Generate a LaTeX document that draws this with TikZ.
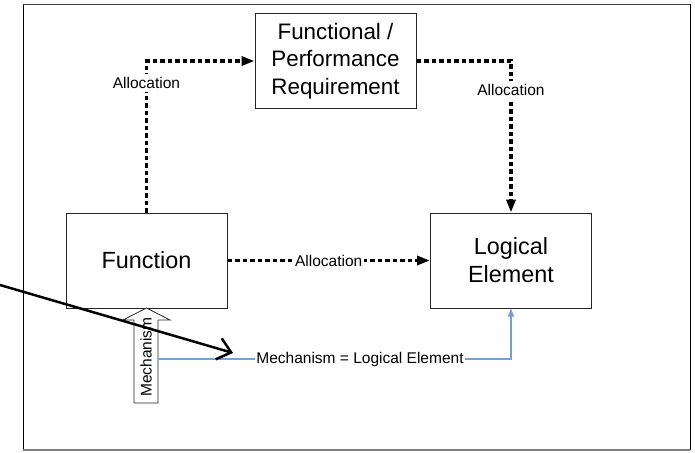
\documentclass[tikz,border=0pt]{standalone}
\usepackage{fontspec}
\setmainfont{Liberation Sans}
\usetikzlibrary{arrows.meta,calc}
\definecolor{linkblue}{RGB}{120,160,214}
\begin{document}
\begin{tikzpicture}[x=1pt,y=-1pt,
  block/.style={draw=black!85,line width=1pt,minimum width=161pt,minimum height=95pt,
    inner sep=0pt,align=center,font=\fontsize{23.4}{28}\selectfont},
  alloc/.style={line width=3.2pt,dash pattern=on 4.5pt off 3pt,
    -{Triangle[length=13pt,width=9pt]}},
  tag/.style={fill=white,text=black,inner xsep=1.5pt,inner ysep=3pt,
    font=\fontsize{15.5}{18}\selectfont},
]
\useasboundingbox (0,0) rectangle (695,452);

% outer frame
\draw[black,line width=1pt] (23,4.5) -- (23,450);
\draw[black,line width=1pt] (690,4.5) -- (690,450);
\draw[black!75,line width=1pt] (23,4.5) -- (690,4.5);
\draw[black!50,line width=2pt] (23,450) -- (690,450);

% the three blocks
\node[block,font=\fontsize{22.4}{27.5}\selectfont] (req) at (335.5,61)
  {Functional /\\Performance\\Requirement};
\node[block] (func) at (146.5,260.5) {Function};
\node[block] (logic) at (511,260.5) {Logical\\Element};

% allocation links
\draw[alloc] (func.north) |- (req.west);
\draw[alloc] (req.east) -| (logic.north);
\draw[alloc] (func.east) -- (logic.west);

% mechanism block arrow
\draw[black!85,fill=white,line width=0.8pt]
  (134,403) -- (158,403) -- (158,320) -- (170,320) -- (146.5,308)
  -- (123,320) -- (134,320) -- cycle;
\node[rotate=90,font=\fontsize{15.5}{18}\selectfont,inner sep=0pt] (mech) at (146,357) {Mechanism};
\coordinate (mechout) at (158,359);
\draw[linkblue,line width=1.2pt,-{Triangle[length=8pt,width=6pt]}]
  (mechout) -| (logic.south);

% link labels, set over the lines
\node[tag] (a1) at (146.5,83) {Allocation};
\node[tag] (a2) at (511,90) {Allocation};
\node[tag] (a3) at ($(func.east)!0.5!(logic.west)$) {Allocation};
\node[tag] (a4) at (360,359) {Mechanism = Logical Element};

% pointer arrow
\coordinate (pstart) at (0,285);
\coordinate (ptip) at (233,353);
\draw[line width=2.5pt,-{Straight Barb[length=13pt,width=22pt]}] (pstart) -- (ptip);
\end{tikzpicture}
\end{document}
